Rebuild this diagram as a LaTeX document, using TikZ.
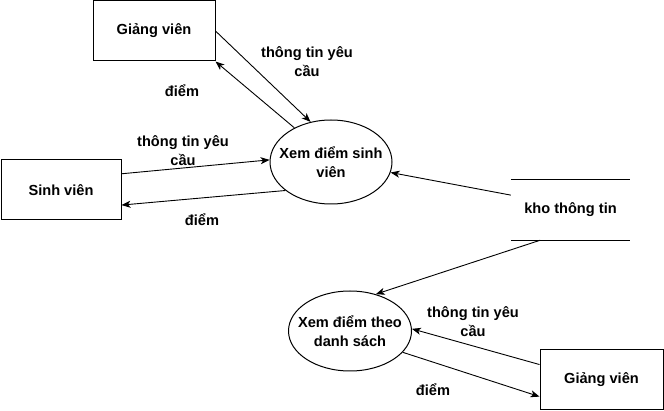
\documentclass[tikz,border=0pt]{standalone}
\usepackage{fontspec}
\setmainfont{Liberation Sans}
\usetikzlibrary{arrows.meta,shapes.geometric}
\begin{document}
\begin{tikzpicture}
[x=1pt,y=-1pt,
 every node/.style={font=\bfseries\fontsize{14.6}{19}\selectfont,align=center,inner sep=0pt},
 box/.style={draw=black,line width=1pt,minimum width=122pt,minimum height=60pt},
 proc/.style={ellipse,draw=black,line width=1pt},
 flow/.style={line width=0.9pt,-{Stealth[length=9pt,width=7pt,inset=2.5pt]}}]
\useasboundingbox (0,0) rectangle (664,411);
% external entities
\node[box] (gv1) at (154,31) {Giảng viên};
\node[box,minimum width=120pt] (sv) at (61,190) {Sinh viên};
\node[box,minimum width=123pt] (gv2) at (601.5,380) {Giảng viên};
% processes
\node[proc,minimum width=122pt,minimum height=84pt] (p1) at (331,162) {};
\node (p1t) at (p1) {Xem điểm sinh\\viên};
\node[proc,minimum width=123pt,minimum height=80pt] (p2) at (350,331) {};
\node (p2t) at (p2) {Xem điểm theo\\danh sách};
% data store
\node[minimum width=119pt,minimum height=60pt] (kho) at (570.5,210) {kho thông tin};
\draw [line width=1pt] (kho.north west) -- (kho.north east) (kho.south west) -- (kho.south east);
% flows
\draw [flow] (gv1.east) to (p1.117);
\draw [flow] (p1.137) to (gv1.south east);
\draw [flow] (sv.15) to (p1.178);
\draw [flow] (p1.212) to (sv.-14);
\draw [flow] (kho.166) to (p1.-10);
\draw [flow] (kho.225) to (p2.55);
\draw [flow] (gv2.166) to (p2.2);
\draw [flow] (p2.-22) to (gv2.195);
% labels
\node (l1) at (307,62) {thông tin yêu\\cầu};
\node (l2) at (182,91) {điểm};
\node (l3) at (183,151) {thông tin yêu\\cầu};
\node (l4) at (202,220) {điểm};
\node (l5) at (473,322) {thông tin yêu\\cầu};
\node (l6) at (433,390) {điểm};
\end{tikzpicture}
\end{document}
